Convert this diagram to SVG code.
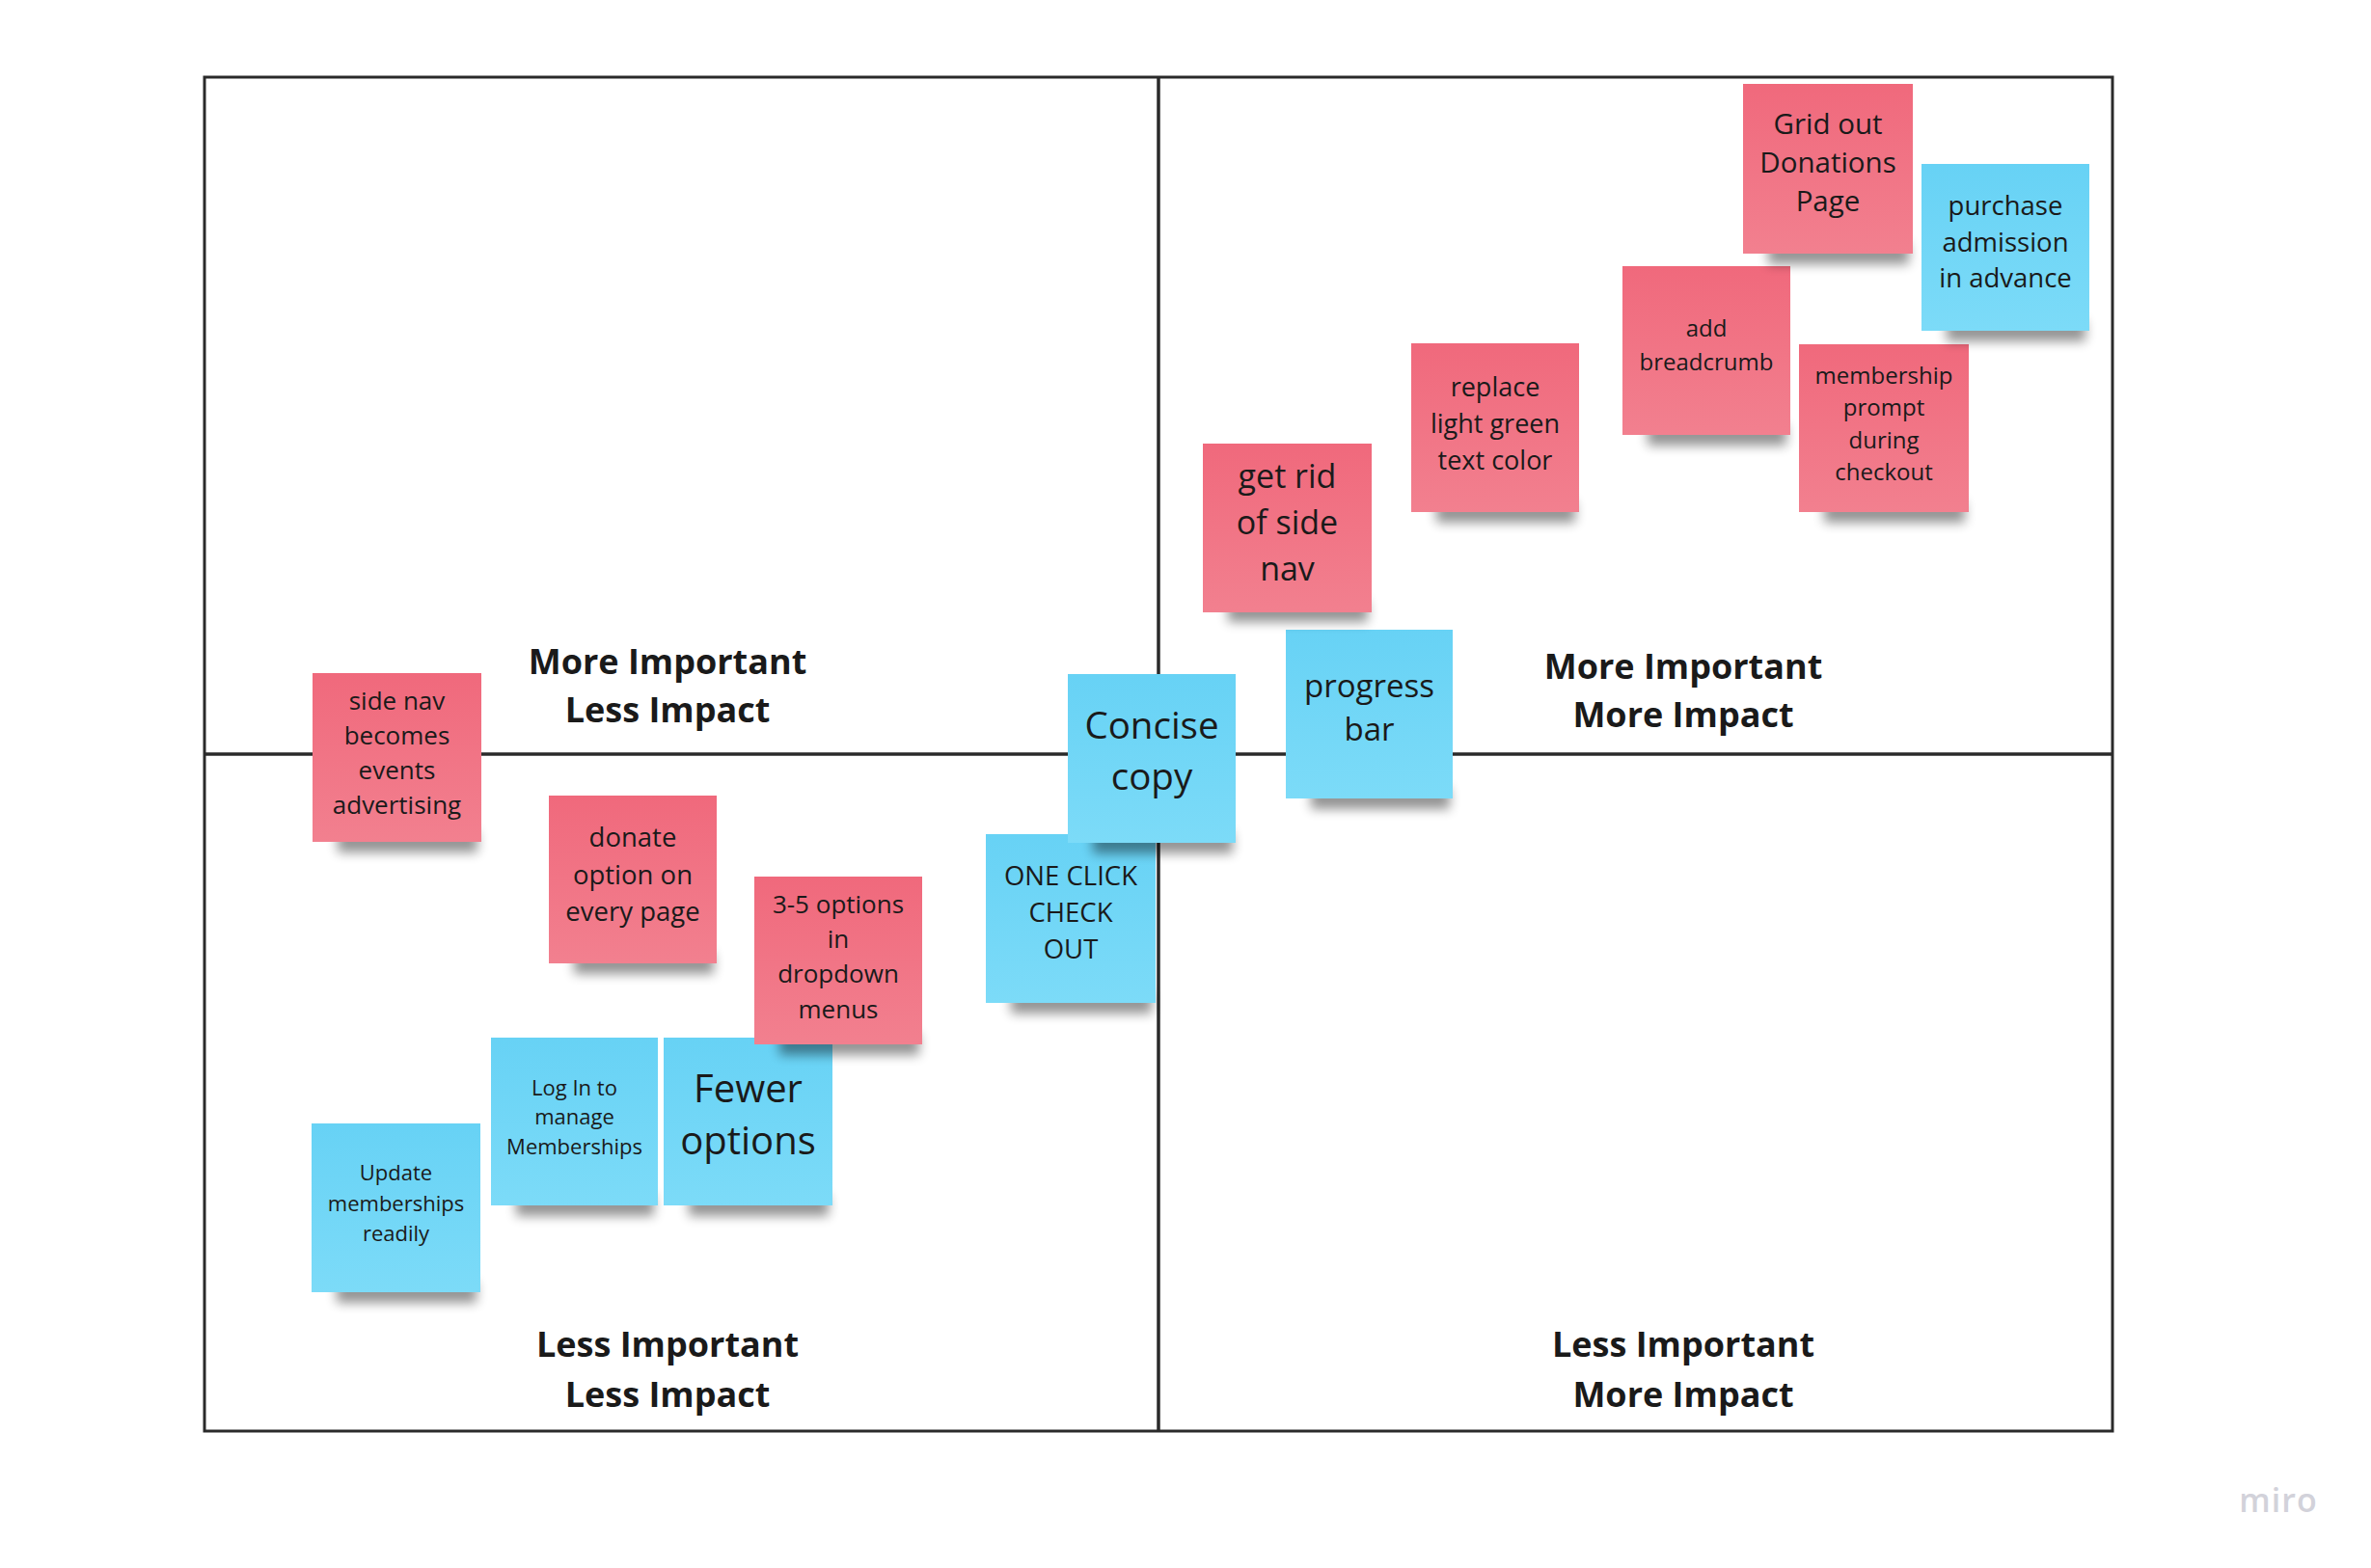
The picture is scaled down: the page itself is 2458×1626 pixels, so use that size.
<svg xmlns="http://www.w3.org/2000/svg" width="2458" height="1626" viewBox="0 0 2458 1626">
<defs>
<linearGradient id="gp" x1="0" y1="0" x2="0" y2="1">
<stop offset="0" stop-color="#f0697c"/>
<stop offset="1" stop-color="#f2808f"/>
</linearGradient>
<linearGradient id="gb" x1="0" y1="0" x2="0" y2="1">
<stop offset="0" stop-color="#67d2f5"/>
<stop offset="1" stop-color="#7cdbf8"/>
</linearGradient>
<filter id="sh" x="-20%" y="-100%" width="140%" height="300%">
<feGaussianBlur stdDeviation="6"/>
</filter>
</defs>
<style>
.frame{fill:none;stroke:#2a2a2a;stroke-width:3}
.div{stroke:#2a2a2a;stroke-width:3.5}
.pink{fill:url(#gp)}
.blue{fill:url(#gb)}
.shadow{fill:#000;opacity:0.42;filter:url(#sh)}
.t{font-family:"Open Sans","Noto Sans","Liberation Sans",sans-serif;fill:#1a1a1a;text-anchor:middle}
.title{font-family:"Open Sans","Noto Sans","Liberation Sans",sans-serif;font-weight:700;font-size:36px;fill:#1a1a1a;text-anchor:middle}
.miro{font-family:"Open Sans","Noto Sans","Liberation Sans",sans-serif;font-weight:600;font-size:34px;fill:#d2d2da;text-anchor:middle;letter-spacing:1px}
</style>
<rect width="2458" height="1626" fill="#ffffff"/>

<g id="connectors">
<rect class="frame" x="212" y="80" width="1978" height="1404"/>
<line class="div" x1="1201" y1="80" x2="1201" y2="1484"/>
<line class="div" x1="212" y1="782" x2="2190" y2="782"/>
</g>

<g id="labels">
<text class="title" x="692" y="699">More Important</text>
<text class="title" x="692" y="749">Less Impact</text>
<text class="title" x="1745" y="704">More Important</text>
<text class="title" x="1745" y="754">More Impact</text>
<text class="title" x="692" y="1407">Less Important</text>
<text class="title" x="692" y="1459">Less Impact</text>
<text class="title" x="1745" y="1407">Less Important</text>
<text class="title" x="1745" y="1459">More Impact</text>
</g>

<g id="note-side-nav">
<rect class="shadow" x="350" y="862" width="145" height="22"/>
<rect class="pink" x="324" y="698" width="175" height="175"/>
<text class="t" font-size="26" x="411.5"><tspan x="411.5" y="736">side nav</tspan><tspan x="411.5" y="772">becomes</tspan><tspan x="411.5" y="808">events</tspan><tspan x="411.5" y="844">advertising</tspan></text>
</g>

<g id="note-donate">
<rect class="shadow" x="595" y="988" width="145" height="22"/>
<rect class="pink" x="569" y="825" width="174" height="174"/>
<text class="t" font-size="27.5"><tspan x="656" y="878">donate</tspan><tspan x="656" y="916.5">option on</tspan><tspan x="656" y="955">every page</tspan></text>
</g>

<g id="note-log-in">
<rect class="shadow" x="535" y="1239" width="143" height="22"/>
<rect class="blue" x="509" y="1076" width="173" height="174"/>
<text class="t" font-size="22"><tspan x="595.5" y="1136">Log In to</tspan><tspan x="595.5" y="1166">manage</tspan><tspan x="595.5" y="1197">Memberships</tspan></text>
</g>

<g id="note-fewer">
<rect class="shadow" x="714" y="1239" width="145" height="22"/>
<rect class="blue" x="688" y="1076" width="175" height="174"/>
<text class="t" font-size="40"><tspan x="775.5" y="1143">Fewer</tspan><tspan x="775.5" y="1197">options</tspan></text>
</g>

<g id="note-3-5">
<rect class="shadow" x="808" y="1072" width="145" height="22"/>
<rect class="pink" x="782" y="909" width="174" height="174"/>
<text class="t" font-size="26"><tspan x="869" y="946.5">3-5 options</tspan><tspan x="869" y="982.5">in</tspan><tspan x="869" y="1019">dropdown</tspan><tspan x="869" y="1055.5">menus</tspan></text>
</g>

<g id="note-update">
<rect class="shadow" x="349" y="1329" width="145" height="22"/>
<rect class="blue" x="323" y="1165" width="175" height="175"/>
<text class="t" font-size="22"><tspan x="410.5" y="1224">Update</tspan><tspan x="410.5" y="1256">memberships</tspan><tspan x="410.5" y="1287">readily</tspan></text>
</g>

<g id="note-one-click">
<rect class="shadow" x="1048" y="1029" width="146" height="22"/>
<rect class="blue" x="1022" y="865" width="176" height="175"/>
<text class="t" font-size="27.5"><tspan x="1110" y="918">ONE CLICK</tspan><tspan x="1110" y="956">CHECK</tspan><tspan x="1110" y="994">OUT</tspan></text>
</g>

<g id="note-concise">
<rect class="shadow" x="1133" y="863" width="145" height="22"/>
<rect class="blue" x="1107" y="699" width="174" height="175"/>
<text class="t" font-size="38.5"><tspan x="1194" y="766">Concise</tspan><tspan x="1194" y="819">copy</tspan></text>
</g>

<g id="note-progress">
<rect class="shadow" x="1359" y="817" width="144" height="22"/>
<rect class="blue" x="1333" y="653" width="173" height="175"/>
<text class="t" font-size="33"><tspan x="1419.5" y="723">progress</tspan><tspan x="1419.5" y="768">bar</tspan></text>
</g>

<g id="note-get-rid">
<rect class="shadow" x="1273" y="623" width="145" height="22"/>
<rect class="pink" x="1247" y="460" width="175" height="175"/>
<text class="t" font-size="34"><tspan x="1334.5" y="506">get rid</tspan><tspan x="1334.5" y="554">of side</tspan><tspan x="1334.5" y="602">nav</tspan></text>
</g>

<g id="note-replace">
<rect class="shadow" x="1489" y="520" width="144" height="22"/>
<rect class="pink" x="1463" y="356" width="174" height="175"/>
<text class="t" font-size="27"><tspan x="1550" y="411">replace</tspan><tspan x="1550" y="449">light green</tspan><tspan x="1550" y="487">text color</tspan></text>
</g>

<g id="note-add-breadcrumb">
<rect class="shadow" x="1708" y="440" width="144" height="22"/>
<rect class="pink" x="1682" y="276" width="174" height="175"/>
<text class="t" font-size="24"><tspan x="1769" y="349">add</tspan><tspan x="1769" y="384">breadcrumb</tspan></text>
</g>

<g id="note-membership-prompt">
<rect class="shadow" x="1891" y="520" width="146" height="22"/>
<rect class="pink" x="1865" y="357" width="176" height="174"/>
<text class="t" font-size="24"><tspan x="1953" y="398">membership</tspan><tspan x="1953" y="431">prompt</tspan><tspan x="1953" y="465">during</tspan><tspan x="1953" y="498">checkout</tspan></text>
</g>

<g id="note-grid-out">
<rect class="shadow" x="1833" y="252" width="146" height="22"/>
<rect class="pink" x="1807" y="87" width="176" height="176"/>
<text class="t" font-size="29.5"><tspan x="1895" y="139">Grid out</tspan><tspan x="1895" y="179">Donations</tspan><tspan x="1895" y="219">Page</tspan></text>
</g>

<g id="note-purchase">
<rect class="shadow" x="2018" y="332" width="144" height="22"/>
<rect class="blue" x="1992" y="170" width="174" height="173"/>
<text class="t" font-size="27.5"><tspan x="2079" y="223">purchase</tspan><tspan x="2079" y="261">admission</tspan><tspan x="2079" y="298">in advance</tspan></text>
</g>

<text class="miro" x="2362" y="1568">miro</text>
</svg>
